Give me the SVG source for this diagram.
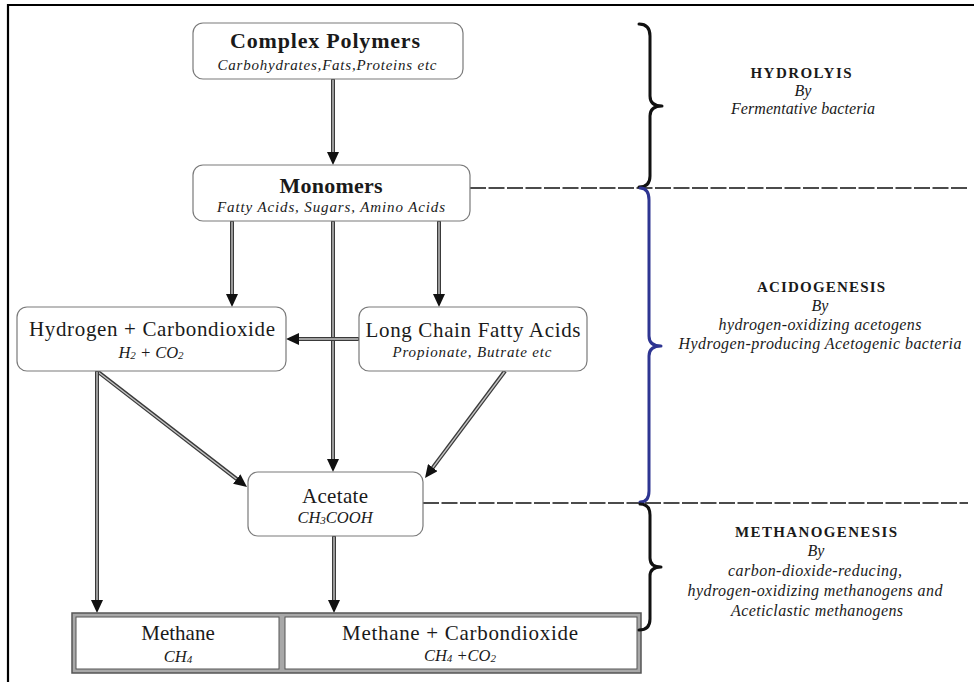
<svg xmlns="http://www.w3.org/2000/svg" width="974" height="682" viewBox="0 0 974 682">
<defs>
<style>
text{font-family:'Liberation Serif','Times New Roman',Tinos,Times,serif}
.box{fill:#fff;stroke:#7a7a7a;stroke-width:1.2}
.t{fill:#1a1a1a;text-anchor:middle}
.b{font-weight:bold}
.i{font-style:italic}
.big{font-size:22px}
.med{font-size:21px}
.sub{font-size:15px}
.f{font-size:16.5px;font-style:italic}
.rh{font-size:15px;font-weight:bold}
.rt{font-size:16px;font-style:italic}
.dark{fill:none;stroke:#3a3a3a;stroke-width:4}
.light{fill:none;stroke:#c4c4c4;stroke-width:1.4}
.dash{fill:none;stroke:#111;stroke-width:1.3;stroke-dasharray:16 2.5}
.brace{fill:none;stroke-width:3;stroke-linecap:round;stroke-linejoin:round}
</style>
<marker id="ah" markerUnits="userSpaceOnUse" markerWidth="13" markerHeight="12" viewBox="0 -6 13 12" refX="1" refY="0" orient="auto">
<path d="M0,-6 L13,0 L0,6 z" fill="#111"/>
</marker>
</defs>
<rect width="974" height="682" fill="#fff"/>
<g id="frame" fill="none" stroke="#000" stroke-width="2.2">
<path d="M8,682 L8,5 L974,5"/>
</g>

<g id="connectors">
<g id="c1"><path class="dark" d="M333,79 L333,153" marker-end="url(#ah)"/><path class="light" d="M333,80 L333,152"/></g>
<g id="c2"><path class="dark" d="M232,221 L232,295" marker-end="url(#ah)"/><path class="light" d="M232,222 L232,294"/></g>
<g id="c3"><path class="dark" d="M439,221 L439,295" marker-end="url(#ah)"/><path class="light" d="M439,222 L439,294"/></g>
<g id="c4"><path class="dark" d="M333,221 L333,460" marker-end="url(#ah)"/><path class="light" d="M333,222 L333,459"/></g>
<g id="c5"><path class="dark" d="M359,339 L298,339" marker-end="url(#ah)"/><path class="light" d="M358,339 L299,339"/></g>
<g id="c6"><path class="dark" d="M97,371 L237.5,479.7" marker-end="url(#ah)"/><path class="light" d="M98,372 L236.5,479"/></g>
<g id="c7"><path class="dark" d="M97,371 L97,601" marker-end="url(#ah)"/><path class="light" d="M97,372 L97,600"/></g>
<g id="c8"><path class="dark" d="M505,371 L432.2,468.4" marker-end="url(#ah)"/><path class="light" d="M504.4,372 L432.8,467.6"/></g>
<g id="c9"><path class="dark" d="M334,536 L334,601" marker-end="url(#ah)"/><path class="light" d="M334,537 L334,600"/></g>
</g>

<g id="dividers">
<path class="dash" d="M470,188 L968,188"/>
<path class="dash" d="M423,503 L968,503"/>
</g>

<g id="complex-polymers">
<rect class="box" x="193" y="23" width="270" height="56" rx="10"/>
<text class="t b big" x="325" y="48" textLength="190">Complex Polymers</text>
<text class="t i sub" x="327" y="70" textLength="219">Carbohydrates,Fats,Proteins etc</text>
</g>

<g id="monomers">
<rect class="box" x="193" y="165" width="277" height="56" rx="10"/>
<text class="t b big" x="331" y="193" textLength="103">Monomers</text>
<text class="t i sub" x="331" y="212" textLength="228">Fatty Acids, Sugars, Amino Acids</text>
</g>

<g id="hydrogen-co2">
<rect class="box" x="17" y="307" width="269" height="64" rx="10"/>
<text class="t med" x="152" y="336" textLength="246">Hydrogen + Carbondioxide</text>
<text class="t f" x="151" y="358">H<tspan font-size="11" dy="1">2</tspan><tspan dy="-1"> + CO</tspan><tspan font-size="11" dy="1">2</tspan></text>
</g>

<g id="long-chain">
<rect class="box" x="359" y="307" width="228" height="64" rx="10"/>
<text class="t med" x="473" y="337" textLength="215">Long Chain Fatty Acids</text>
<text class="t i sub" x="472" y="357" textLength="159">Propionate, Butrate etc</text>
</g>

<g id="acetate">
<rect class="box" x="248" y="472" width="175" height="64" rx="10"/>
<text class="t med" x="335" y="503" textLength="66">Acetate</text>
<text class="t f" x="335" y="523">CH<tspan font-size="11" dy="1">3</tspan><tspan dy="-1">COOH</tspan></text>
</g>

<g id="products">
<rect x="72" y="613" width="569" height="60" fill="#a8a8a8" stroke="#555" stroke-width="1.5"/>
<g id="methane">
<rect x="76" y="617" width="203" height="52" fill="#fff" stroke="#555" stroke-width="1"/>
<text class="t med" x="178" y="640">Methane</text>
<text class="t f" x="178" y="662">CH<tspan font-size="11" dy="1">4</tspan></text>
</g>
<g id="methane-co2">
<rect x="285" y="617" width="352" height="52" fill="#fff" stroke="#555" stroke-width="1"/>
<text class="t med" x="460" y="640" textLength="236">Methane + Carbondioxide</text>
<text class="t f" x="460" y="661">CH<tspan font-size="11" dy="1">4</tspan><tspan dy="-1"> +CO</tspan><tspan font-size="11" dy="1">2</tspan></text>
</g>
</g>

<g id="hydrolysis">
<path class="brace" stroke="#111" d="M639,24 Q650,24 650,36 L650,96 Q650,106 662,106 Q650,106 650,116 L650,176 Q650,187 639,187"/>
<text class="t rh" x="801" y="78" textLength="101">HYDROLYIS</text>
<text class="t rt" x="803" y="96">By</text>
<text class="t rt" x="803" y="114" textLength="144">Fermentative bacteria</text>
</g>

<g id="acidogenesis">
<path class="brace" stroke="#2e3592" d="M640,188 Q649,188 649,200 L649,336 Q649,346 661,346 Q649,346 649,356 L649,491 Q649,502 640,502"/>
<text class="t rh" x="821" y="292" textLength="128">ACIDOGENESIS</text>
<text class="t rt" x="820" y="311">By</text>
<text class="t rt" x="820" y="330" textLength="203">hydrogen-oxidizing acetogens</text>
<text class="t rt" x="820" y="349" textLength="283">Hydrogen-producing Acetogenic bacteria</text>
</g>

<g id="methanogenesis">
<path class="brace" stroke="#111" d="M640,504 Q650,504 650,515 L650,558 Q650,567 661,567 Q650,567 650,576 L650,619 Q650,630 639,630"/>
<text class="t rh" x="816" y="537" textLength="162">METHANOGENESIS</text>
<text class="t rt" x="816" y="556">By</text>
<text class="t rt" x="815" y="576" textLength="174">carbon-dioxide-reducing,</text>
<text class="t rt" x="815" y="596" textLength="255">hydrogen-oxidizing methanogens and</text>
<text class="t rt" x="817" y="616" textLength="172">Aceticlastic methanogens</text>
</g>
</svg>
